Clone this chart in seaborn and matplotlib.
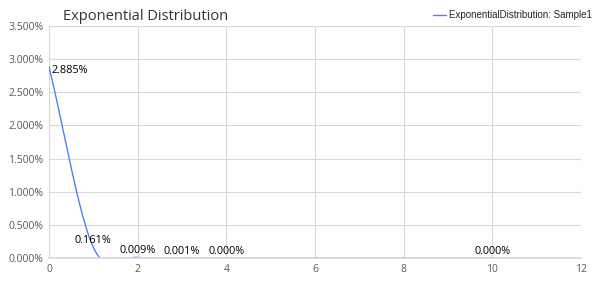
import numpy as np
import pandas as pd
import matplotlib
matplotlib.use("Agg")
import matplotlib.pyplot as plt
import seaborn as sns

x_vals = [0, 1, 2, 3, 4, 10]
y_vals = [2.885, 0.161, 0.009, 0.001, 0.000, 0.000]   # percent
labels = ["2.885%", "0.161%", "0.009%", "0.001%", "0.000%", "0.000%"]
series_name = "ExponentialDistribution: Sample1"
title = "Exponential Distribution"
x_ticks = [0, 2, 4, 6, 8, 10, 12]
y_ticks = [0, 0.5, 1.0, 1.5, 2.0, 2.5, 3.0, 3.5]

def catmull_rom(xs, ys, n=60):
    xs = np.asarray(xs, float); ys = np.asarray(ys, float)
    k = len(xs)
    m = np.zeros(k)
    for i in range(k):
        if i == 0:
            m[i] = (ys[1] - ys[0]) / (xs[1] - xs[0])
        elif i == k - 1:
            m[i] = (ys[-1] - ys[-2]) / (xs[-1] - xs[-2])
        else:
            m[i] = (ys[i + 1] - ys[i - 1]) / (xs[i + 1] - xs[i - 1])
    X, Y = [], []
    for i in range(k - 1):
        h = xs[i + 1] - xs[i]
        t = np.linspace(0, 1, n, endpoint=(i == k - 2))
        h00 = 2*t**3 - 3*t**2 + 1
        h10 = t**3 - 2*t**2 + t
        h01 = -2*t**3 + 3*t**2
        h11 = t**3 - t**2
        X.append(xs[i] + t*h)
        Y.append(h00*ys[i] + h10*h*m[i] + h01*ys[i+1] + h11*h*m[i+1])
    return np.concatenate(X), np.concatenate(Y)

sx, sy = catmull_rom(x_vals, y_vals)
df = pd.DataFrame({"x": sx, "y": sy, "series": series_name})

sns.set_theme(style="white")
plt.rcParams["font.family"] = ["Open Sans", "DejaVu Sans"]

fig = plt.figure(figsize=(5.96, 2.84), dpi=100)
ax = fig.add_axes([49/596, 26/284, 532/596, 232/284])

sns.lineplot(data=df, x="x", y="y", hue="series", palette=["#4a86e8"],
             linewidth=1.0, ax=ax, sort=False, estimator=None)

ax.set_xlim(0, 12)
ax.set_ylim(0, 3.5)
ax.set_xticks(x_ticks)
ax.set_yticks(y_ticks)
ax.set_xticklabels([str(t) for t in x_ticks])
ax.set_yticklabels([f"{t:.3f}%" for t in y_ticks])
ax.tick_params(axis="both", labelsize=7.5, colors="#595959", length=0, pad=4)
ax.grid(True, color="#d9d9d9", linewidth=0.8)
for s in ["top", "right", "left"]:
    ax.spines[s].set_visible(False)
ax.spines["bottom"].set_color("#d9d9d9")
ax.set_xlabel("")
ax.set_ylabel("")

for i, (xv, yv, lab) in enumerate(zip(x_vals, y_vals, labels)):
    if i == 0:
        ax.annotate(lab, (xv, yv), xytext=(2, -3), textcoords="offset points",
                    ha="left", va="center", fontsize=7.8, color="black")
    else:
        ax.annotate(lab, (xv, yv), xytext=(0, 1), textcoords="offset points",
                    ha="center", va="bottom", fontsize=7.8, color="black")

fig.text(63/596, 1 - 17/284, title, fontsize=10.5, color="#333333",
         ha="left", va="center")

leg = ax.legend(loc="center right", bbox_to_anchor=(1.036, 1 + 11/232), frameon=False,
                handlelength=1.3, handletextpad=0.3,
                prop={"family": ["Liberation Sans"], "size": 7.0})

fig.savefig("out.png", dpi=100)
